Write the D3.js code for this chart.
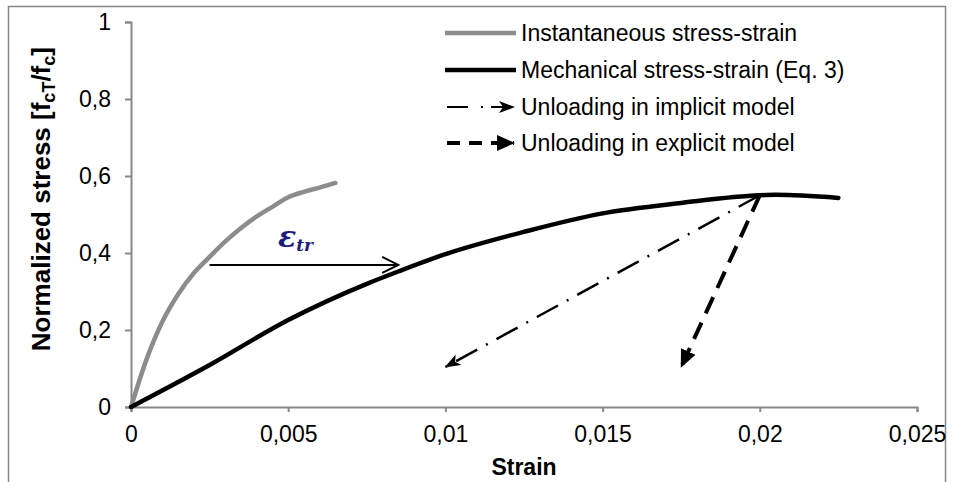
<!DOCTYPE html>
<html>
<head>
<meta charset="utf-8">
<script src="https://cdn.jsdelivr.net/npm/d3@7"></script>
<style>
  body { margin: 0; background: #fff; }
  svg { display: block; font-family: "Liberation Sans", Arial, sans-serif; }
</style>
</head>
<body>
<svg id="chart"></svg>
<script>
// data
const instStrain = [0, 0.0005, 0.001, 0.0015, 0.002, 0.0025, 0.003, 0.0035, 0.004, 0.0045, 0.005, 0.0055, 0.006, 0.0065];
const instStress = [0, 0.125, 0.222, 0.293, 0.348, 0.39, 0.43, 0.465, 0.495, 0.52, 0.545, 0.559, 0.57, 0.582];

const mechStrain = [0, 0.0025, 0.005, 0.0075, 0.0085, 0.01, 0.0125, 0.015, 0.0175, 0.02, 0.0205, 0.0225];
const mechStress = [0, 0.109, 0.226, 0.32, 0.352, 0.397, 0.455, 0.503, 0.53, 0.55, 0.551, 0.543];

// unloading arrows: [start strain, start stress, end strain, end stress]
const implicitArrow = [0.02, 0.55, 0.01, 0.104];
const explicitArrow = [0.02, 0.55, 0.0175, 0.104];
// transient strain arrow
const trArrow = [0.0025, 0.369, 0.0085, 0.369];

const xTicks = [0, 0.005, 0.01, 0.015, 0.02, 0.025];
const xTickLabels = ['0', '0,005', '0,01', '0,015', '0,02', '0,025'];
const yTicks = [0, 0.2, 0.4, 0.6, 0.8, 1];
const yTickLabels = ['0', '0,2', '0,4', '0,6', '0,8', '1'];

const legendLabels = ['Instantaneous stress-strain', 'Mechanical stress-strain (Eq. 3)',
  'Unloading in implicit model', 'Unloading in explicit model'];

const width = 954, height = 482;
const margin = {top: 22, right: 34, bottom: 75, left: 131};
const axisGrey = '#888';

const svg = d3.select('#chart').attr('width', width).attr('height', height);

// chart area border
svg.append('rect')
  .attr('x', 8.5).attr('y', 6.5)
  .attr('width', 937).attr('height', 490)
  .attr('fill', 'none').attr('stroke', axisGrey).attr('stroke-width', 1.5);

const x = d3.scaleLinear().domain([0, 0.025]).range([margin.left, width - margin.right - 3]);
const y = d3.scaleLinear().domain([0, 1]).range([height - margin.bottom, margin.top]);

// markers
const defs = svg.append('defs');
defs.append('marker')
  .attr('id', 'openArrow').attr('viewBox', '0 0 20 20')
  .attr('refX', 18).attr('refY', 10)
  .attr('markerWidth', 20).attr('markerHeight', 20)
  .attr('markerUnits', 'userSpaceOnUse').attr('orient', 'auto')
  .append('path').attr('d', 'M2,2 L18,10 L2,18')
  .attr('fill', 'none').attr('stroke', '#000').attr('stroke-width', 2);
defs.append('marker')
  .attr('id', 'stealth').attr('viewBox', '0 0 16 12')
  .attr('refX', 15).attr('refY', 6)
  .attr('markerWidth', 16).attr('markerHeight', 12)
  .attr('markerUnits', 'userSpaceOnUse').attr('orient', 'auto')
  .append('path').attr('d', 'M0,0 L16,6 L0,12 L4,6 Z').attr('fill', '#000');
defs.append('marker')
  .attr('id', 'triangle').attr('viewBox', '0 0 18 16')
  .attr('refX', 17).attr('refY', 8)
  .attr('markerWidth', 18).attr('markerHeight', 16)
  .attr('markerUnits', 'userSpaceOnUse').attr('orient', 'auto')
  .append('path').attr('d', 'M0,0 L18,8 L0,16 Z').attr('fill', '#000');

// axes
const xAxis = svg.append('g')
  .attr('transform', `translate(0,${y(0)})`)
  .call(d3.axisBottom(x).tickValues(xTicks).tickFormat((d, i) => xTickLabels[i]).tickSizeOuter(0).tickSize(5).tickPadding(14));
const yAxis = svg.append('g')
  .attr('transform', `translate(${x(0)},0)`)
  .call(d3.axisLeft(y).tickValues(yTicks).tickFormat((d, i) => yTickLabels[i]).tickSizeOuter(0).tickSize(6).tickPadding(14));

[xAxis, yAxis].forEach(a => {
  a.select('.domain').attr('stroke', axisGrey).attr('stroke-width', 2);
  a.selectAll('.tick line').attr('stroke', axisGrey).attr('stroke-width', 2);
  a.selectAll('.tick text').attr('fill', '#000').attr('font-size', 23)
    .attr('font-family', '"Liberation Sans", Arial, sans-serif');
});

// axis titles
svg.append('text')
  .attr('x', x(0.0125)).attr('y', 475)
  .attr('text-anchor', 'middle').attr('font-size', 23).attr('font-weight', 'bold')
  .text('Strain');

const yTitle = svg.append('text')
  .attr('transform', `translate(50,${y(0.54)}) rotate(-90)`)
  .attr('text-anchor', 'middle').attr('font-size', 26).attr('font-weight', 'bold');
yTitle.append('tspan').text('Normalized stress [f');
yTitle.append('tspan').attr('font-size', 18).attr('dy', 5).text('cT');
yTitle.append('tspan').attr('dy', -5).text('/f');
yTitle.append('tspan').attr('font-size', 18).attr('dy', 5).text('c');
yTitle.append('tspan').attr('dy', -5).text(']');

// curves
const line = d3.line().x(d => x(d[0])).y(d => y(d[1])).curve(d3.curveMonotoneX);

svg.append('path')
  .datum(instStrain.map((s, i) => [s, instStress[i]]))
  .attr('d', line).attr('fill', 'none')
  .attr('stroke', '#8c8c8c').attr('stroke-width', 4.5).attr('stroke-linecap', 'round');

svg.append('path')
  .datum(mechStrain.map((s, i) => [s, mechStress[i]]))
  .attr('d', line).attr('fill', 'none')
  .attr('stroke', '#000').attr('stroke-width', 4.5).attr('stroke-linecap', 'round');

// transient strain arrow
svg.append('line')
  .attr('x1', x(trArrow[0])).attr('y1', y(trArrow[1]))
  .attr('x2', x(trArrow[2])).attr('y2', y(trArrow[3]))
  .attr('stroke', '#000').attr('stroke-width', 2)
  .attr('marker-end', 'url(#openArrow)');

const eps = svg.append('text')
  .attr('x', 278).attr('y', 247)
  .attr('fill', '#1c1c80').attr('font-weight', 'bold').attr('font-style', 'italic')
  .attr('font-family', '"DejaVu Serif", "Liberation Serif", serif');
eps.append('tspan').attr('font-size', 30).text('ε');
eps.append('tspan').attr('font-size', 17).attr('dy', 4).text('tr');

// unloading arrows
svg.append('line')
  .attr('x1', x(implicitArrow[0])).attr('y1', y(implicitArrow[1]))
  .attr('x2', x(implicitArrow[2])).attr('y2', y(implicitArrow[3]))
  .attr('stroke', '#000').attr('stroke-width', 2.5)
  .attr('stroke-dasharray', '24 10 2 10')
  .attr('marker-end', 'url(#stealth)');

svg.append('line')
  .attr('x1', x(explicitArrow[0])).attr('y1', y(explicitArrow[1]))
  .attr('x2', x(explicitArrow[2])).attr('y2', y(explicitArrow[3]))
  .attr('stroke', '#000').attr('stroke-width', 4)
  .attr('stroke-dasharray', '18 10')
  .attr('marker-end', 'url(#triangle)');

// legend
const legend = svg.append('g');
const rowY = [33, 70, 107, 143];
const lx0 = 445, lx1 = 516;

legend.append('line').attr('x1', lx0).attr('x2', lx1).attr('y1', rowY[0]).attr('y2', rowY[0])
  .attr('stroke', '#8c8c8c').attr('stroke-width', 4.5);
legend.append('line').attr('x1', lx0).attr('x2', lx1).attr('y1', rowY[1]).attr('y2', rowY[1])
  .attr('stroke', '#000').attr('stroke-width', 4.5);
legend.append('line').attr('x1', lx0 + 2).attr('x2', lx1 - 2).attr('y1', rowY[2]).attr('y2', rowY[2])
  .attr('stroke', '#000').attr('stroke-width', 2)
  .attr('stroke-dasharray', '21 13 2 8')
  .attr('marker-end', 'url(#stealth)');
legend.append('line').attr('x1', lx0 + 2).attr('x2', lx1 - 2).attr('y1', rowY[3]).attr('y2', rowY[3])
  .attr('stroke', '#000').attr('stroke-width', 4)
  .attr('stroke-dasharray', '13 9')
  .attr('marker-end', 'url(#triangle)');

legend.selectAll('text.lbl').data(legendLabels).enter().append('text')
  .attr('class', 'lbl')
  .attr('x', 521).attr('y', (d, i) => rowY[i] + 8)
  .attr('font-size', 23)
  .text(d => d);
</script>
</body>
</html>
